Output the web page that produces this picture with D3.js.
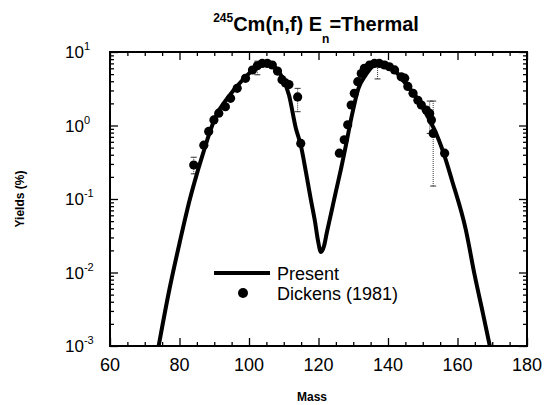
<!DOCTYPE html>
<html>
<head>
<meta charset="utf-8">
<script src="https://cdn.jsdelivr.net/npm/d3@7"></script>
<style>
  body { margin: 0; background: #fff; }
  text { font-family: "Liberation Sans", Arial, sans-serif; fill: #000; }
</style>
</head>
<body>
<div id="chart"></div>
<script>
// データ----------------------------------------------------------------------------------------
// 計算値 (Present)
const curveMass = [74, 77, 80, 83, 85, 87, 89, 91, 93, 95, 97, 99, 101, 103, 104.5, 106, 107.5,
  109.5, 111.5, 113.5, 114.9, 116.4, 117.8, 119.0, 119.8, 120.7, 121.6, 122.4, 123.6, 125.0,
  126.5, 127.9, 129.5, 131.5, 133.5, 135.5, 137.5, 139.5, 141.5, 143.5, 145.5, 147.5, 149.6,
  151.5, 153.4, 156, 158.4, 162.4, 165, 167.3, 169.3];
const curveYield = [0.001, 0.0056, 0.025, 0.1, 0.22, 0.45, 0.89, 1.5, 2.1, 2.8, 3.6, 4.6, 5.6, 6.6, 6.9, 6.8, 6.2,
  4.6, 2.6, 0.91, 0.54, 0.23, 0.098, 0.049, 0.028, 0.019, 0.023, 0.035, 0.063, 0.126,
  0.26, 0.54, 1.3, 3.2, 4.8, 6.3, 6.9, 6.8, 5.9, 4.6, 3.5, 2.7, 1.9,
  1.3, 0.87, 0.42, 0.18, 0.038, 0.0089, 0.0028, 0.001];
// 実験値 Dickens (1981)
const expMass = [84.1, 87.0, 88.4, 89.9, 91.3, 93.2, 94.7, 96.6, 99.0, 101.0, 102.4, 103.8, 105.3, 106.7,
  108.2, 109.5, 110.5, 111.5, 114.0, 114.9,
  126.0, 127.4, 128.4, 129.4, 130.3, 131.3, 132.3, 133.2, 134.7, 136.1, 137.5, 139.0, 140.4, 141.9,
  143.8, 144.8, 145.7, 147.2, 148.6, 149.6, 151.0, 152.0, 152.5, 153.0, 156.3];
const expYield = [0.29, 0.54, 0.83, 1.19, 1.47, 1.8, 2.34, 3.2, 4.39, 5.69, 6.5, 7.0, 7.0, 6.65,
  5.5, 4.2, 3.8, 3.6, 2.45, 0.57,
  0.42, 0.64, 1.02, 1.9, 2.74, 3.95, 5.1, 6.0, 6.65, 7.0, 7.0, 6.65, 6.3, 5.7,
  4.6, 4.4, 3.4, 2.74, 2.2, 1.9, 1.62, 1.46, 1.19, 0.78, 0.42];
// 誤差棒
const errMass = [84.1, 102.4, 114.0, 137.0, 152.0, 153.0];
const errLow = [0.22, 4.9, 1.54, 4.3, 0.78, 0.15];
const errHigh = [0.37, 7.5, 3.2, 7.5, 2.15, 2.15];
// 目盛
const xTicks = [60, 80, 100, 120, 140, 160, 180];
const yDecades = [-3, -2, -1, 0, 1];
// ---------------------------------------------------------------------------------------------
const width = 545;
const height = 405;
const margin = { top: 52, bottom: 59, left: 110, right: 18 };

const svg = d3.select('#chart').append('svg')
  .attr('width', width)
  .attr('height', height);

const xScale = d3.scaleLinear()
  .domain([60, 180])
  .range([margin.left, width - margin.right]);
const yScale = d3.scaleLog()
  .domain([1e-3, 1e1])
  .range([height - margin.bottom, margin.top]);

const x0 = margin.left, x1 = width - margin.right;
const y0 = height - margin.bottom, y1 = margin.top;

// クリップ------------------------------------------------------------------------------------
svg.append('clipPath').attr('id', 'plot-clip')
  .append('rect')
  .attr('x', x0).attr('y', y1)
  .attr('width', x1 - x0).attr('height', y0 - y1);

// 目盛 (内向き)-------------------------------------------------------------------------------
const xMinor = d3.range(60, 181, 5).filter(d => d % 20 !== 0);
const yMinor = [];
yDecades.slice(0, -1).forEach(e => { for (let k = 2; k <= 9; k++) yMinor.push(k * Math.pow(10, e)); });
const yMajor = yDecades.map(e => Math.pow(10, e));

const tickAxis = (axis, values, size, transform) => {
  svg.append('g')
    .attr('transform', transform)
    .call(axis.tickValues(values).tickSize(-size).tickSizeOuter(0).tickFormat(''))
    .call(g => g.select('.domain').remove())
    .selectAll('line').attr('stroke', '#000').attr('stroke-width', 1.3);
};
tickAxis(d3.axisBottom(xScale), xMinor, 4, 'translate(0,' + y0 + ')');
tickAxis(d3.axisBottom(xScale), xTicks, 8, 'translate(0,' + y0 + ')');
tickAxis(d3.axisTop(xScale), xMinor, 4, 'translate(0,' + y1 + ')');
tickAxis(d3.axisTop(xScale), xTicks, 8, 'translate(0,' + y1 + ')');
tickAxis(d3.axisLeft(yScale), yMinor, 4, 'translate(' + x0 + ',0)');
tickAxis(d3.axisLeft(yScale), yMajor, 8, 'translate(' + x0 + ',0)');
tickAxis(d3.axisRight(yScale), yMinor, 4, 'translate(' + x1 + ',0)');
tickAxis(d3.axisRight(yScale), yMajor, 8, 'translate(' + x1 + ',0)');

// 枠------------------------------------------------------------------------------------------
svg.append('rect')
  .attr('x', x0).attr('y', y1)
  .attr('width', x1 - x0).attr('height', y0 - y1)
  .attr('fill', 'none')
  .attr('stroke', '#000')
  .attr('stroke-width', 2);

// 目盛ラベル------------------------------------------------------------------------------------
svg.append('g').selectAll('text')
  .data(xTicks)
  .enter().append('text')
  .attr('x', d => xScale(d))
  .attr('y', y0 + 25)
  .attr('text-anchor', 'middle')
  .attr('font-size', '18px')
  .text(d => d);

const yLab = svg.append('g').selectAll('text')
  .data(yDecades)
  .enter().append('text')
  .attr('x', 65)
  .attr('y', d => yScale(Math.pow(10, d)) + 6)
  .attr('font-size', '17px');
yLab.append('tspan').text('10');
yLab.append('tspan').attr('dy', -8).attr('font-size', '11px').text(d => d);

// 誤差棒--------------------------------------------------------------------------------------
svg.append('g').selectAll('line')
  .data(errMass)
  .enter().append('line')
  .attr('x1', d => xScale(d)).attr('x2', d => xScale(d))
  .attr('y1', (d, i) => yScale(errLow[i]))
  .attr('y2', (d, i) => yScale(errHigh[i]))
  .attr('stroke', '#333')
  .attr('stroke-width', 1)
  .attr('stroke-dasharray', '1,1');
const capW = 3;
[errLow, errHigh].forEach(arr => {
  svg.append('g').selectAll('line')
    .data(errMass)
    .enter().append('line')
    .attr('x1', d => xScale(d) - capW).attr('x2', d => xScale(d) + capW)
    .attr('y1', (d, i) => yScale(arr[i])).attr('y2', (d, i) => yScale(arr[i]))
    .attr('stroke', '#333')
    .attr('stroke-width', 1);
});

// 計算曲線------------------------------------------------------------------------------------
const line = d3.line()
  .x(d => xScale(d[0]))
  .y(d => yScale(d[1]))
  .curve(d3.curveMonotoneX);
svg.append('path')
  .datum(curveMass.map((m, i) => [m, curveYield[i]]))
  .attr('clip-path', 'url(#plot-clip)')
  .attr('d', line)
  .attr('fill', 'none')
  .attr('stroke', '#000')
  .attr('stroke-width', 4);

// 実験値----------------------------------------------------------------------------------------
svg.append('g').selectAll('circle')
  .data(expMass)
  .enter().append('circle')
  .attr('cx', d => xScale(d))
  .attr('cy', (d, i) => yScale(expYield[i]))
  .attr('r', 4.6)
  .attr('fill', '#000');

// 凡例------------------------------------------------------------------------------------------
const legend = svg.append('g').attr('font-size', '18px');
legend.append('line')
  .attr('x1', 214).attr('x2', 270)
  .attr('y1', 273).attr('y2', 273)
  .attr('stroke', '#000').attr('stroke-width', 4);
legend.append('text').attr('x', 277).attr('y', 280).text('Present');
legend.append('circle').attr('cx', 243).attr('cy', 293).attr('r', 5).attr('fill', '#000');
legend.append('text').attr('x', 277).attr('y', 300).text('Dickens (1981)');

// 軸名------------------------------------------------------------------------------------------
svg.append('text')
  .attr('x', 312).attr('y', 401)
  .attr('text-anchor', 'middle')
  .attr('font-size', '12px')
  .attr('font-weight', 'bold')
  .text('Mass');
svg.append('text')
  .attr('transform', 'translate(24,199) rotate(-90)')
  .attr('text-anchor', 'middle')
  .attr('font-size', '12px')
  .attr('font-weight', 'bold')
  .text('Yields (%)');

// 表名------------------------------------------------------------------------------------------
const title = svg.append('text')
  .attr('x', 316).attr('y', 31)
  .attr('text-anchor', 'middle')
  .attr('font-size', '20px')
  .attr('font-weight', 'bold');
title.append('tspan').attr('font-size', '12px').attr('dy', -9).text('245');
title.append('tspan').attr('dy', 9).text('Cm(n,f) E');
title.append('tspan').attr('font-size', '12px').attr('dy', 12).text('n');
title.append('tspan').attr('dy', -12).text('=Thermal');
</script>
</body>
</html>
